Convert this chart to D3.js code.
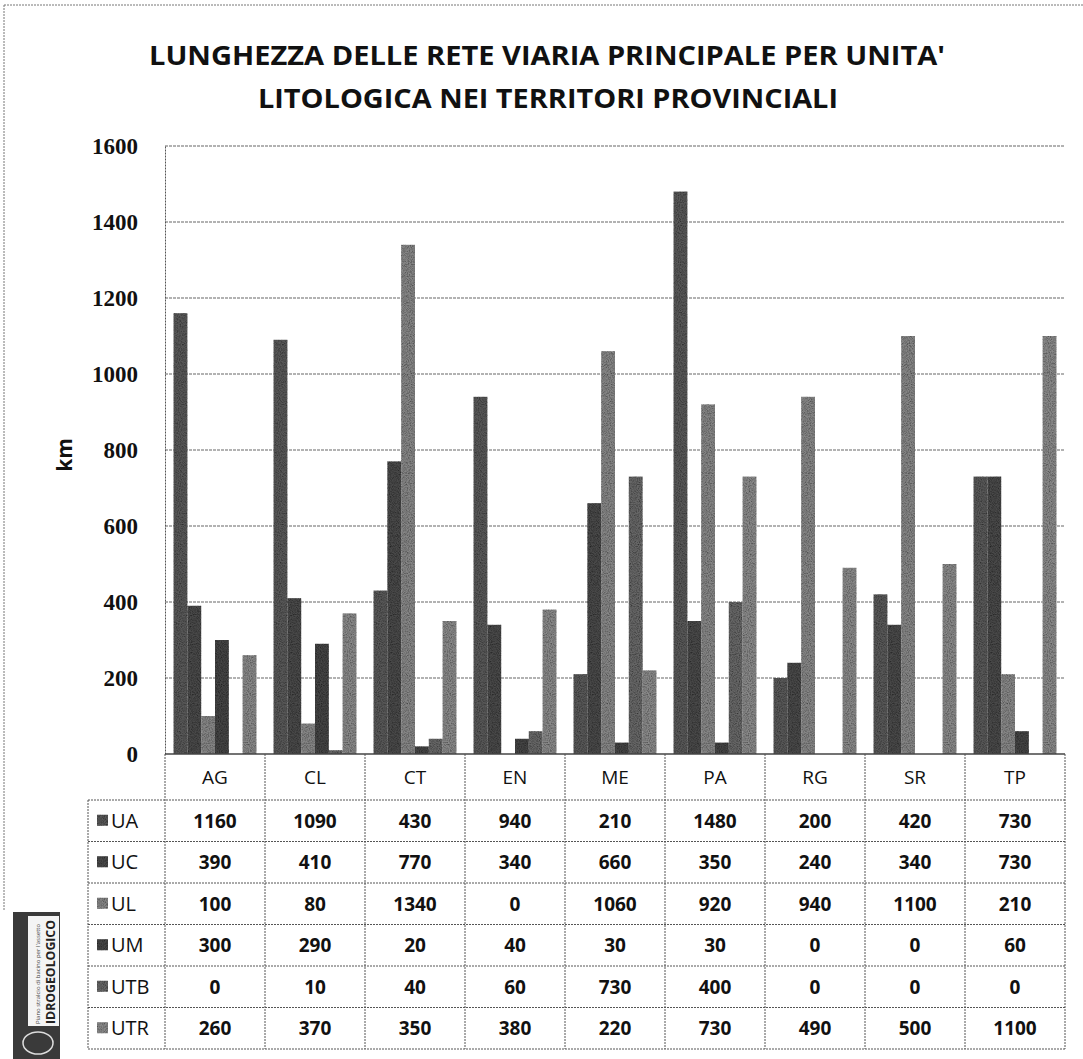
<!DOCTYPE html>
<html>
<head>
<meta charset="utf-8">
<script src="https://cdn.jsdelivr.net/npm/d3@7"></script>
<style>
    body { margin: 0; background: #fff; }
    svg { display: block; }
</style>
</head>
<body>
<div id="chart"></div>
<script>

// data
let provinces = ["AG", "CL", "CT", "EN", "ME", "PA", "RG", "SR", "TP"];
let units = ["UA", "UC", "UL", "UM", "UTB", "UTR"];
let valUA  = [1160, 1090, 430, 940, 210, 1480, 200, 420, 730];
let valUC  = [390, 410, 770, 340, 660, 350, 240, 340, 730];
let valUL  = [100, 80, 1340, 0, 1060, 920, 940, 1100, 210];
let valUM  = [300, 290, 20, 40, 30, 30, 0, 0, 60];
let valUTB = [0, 10, 40, 60, 730, 400, 0, 0, 0];
let valUTR = [260, 370, 350, 380, 220, 730, 490, 500, 1100];
let yTicks = [0, 200, 400, 600, 800, 1000, 1200, 1400, 1600];

let seriesValues = [valUA, valUC, valUL, valUM, valUTB, valUTR];
let colors = ["#585858", "#4a4a4a", "#858585", "#444444", "#666666", "#888888"];

let width = 1083, height = 1059;
let margin = {top: 146, left: 165, right: 15};
let plotBottom = 754;
let rowH = 41.5;
let headerBottom = 800;
let labelLeft = 88;

let svg = d3.select("#chart").append("svg")
    .attr("width", width)
    .attr("height", height)
    .style("font-family", "'Open Sans', 'Liberation Sans', sans-serif");

// grain texture for the bars (scan look)
let defs = svg.append("defs");
let filt = defs.append("filter").attr("id", "grain")
    .attr("x", 0).attr("y", 0).attr("width", 1).attr("height", 1);
filt.append("feTurbulence").attr("type", "fractalNoise")
    .attr("baseFrequency", 0.9).attr("numOctaves", 2).attr("seed", 3).attr("result", "noise");
filt.append("feColorMatrix").attr("in", "noise").attr("type", "matrix")
    .attr("values", "0 0 0 0 0  0 0 0 0 0  0 0 0 0 0  0 0 0 -1.4 0.9").attr("result", "dots");
filt.append("feComposite").attr("in", "dots").attr("in2", "SourceGraphic").attr("operator", "in").attr("result", "dotsIn");
filt.append("feMerge").selectAll("feMergeNode")
    .data(["SourceGraphic", "dotsIn"]).enter().append("feMergeNode").attr("in", d => d);

// outer border of the scanned chart
svg.append("line").attr("x1", 4).attr("x2", 1083).attr("y1", 5).attr("y2", 5)
    .attr("stroke", "#777").attr("stroke-dasharray", "2,1");
svg.append("line").attr("x1", 4).attr("x2", 4).attr("y1", 5).attr("y2", 910)
    .attr("stroke", "#777").attr("stroke-dasharray", "2,1");

// title
let title = svg.append("g").attr("font-weight", "bold").attr("fill", "#111")
    .attr("text-anchor", "middle").attr("font-size", 27);
title.append("text").attr("x", 547).attr("y", 65)
    .attr("textLength", 796).attr("lengthAdjust", "spacingAndGlyphs")
    .text("LUNGHEZZA DELLE RETE VIARIA PRINCIPALE PER UNITA'");
title.append("text").attr("x", 548).attr("y", 108)
    .attr("textLength", 580).attr("lengthAdjust", "spacingAndGlyphs")
    .text("LITOLOGICA NEI TERRITORI PROVINCIALI");

// scales
let x0 = d3.scaleBand()
    .domain(provinces)
    .range([margin.left, width - margin.right - 3])
    .paddingInner(0);

let x1 = d3.scaleBand()
    .domain(units)
    .range([0, x0.bandwidth()])
    .paddingOuter(0.62);

let y = d3.scaleLinear()
    .domain([0, 1600])
    .range([plotBottom, margin.top]);

// gridlines
svg.append("g").selectAll("line")
    .data(yTicks.filter(d => d > 0))
    .enter().append("line")
    .attr("x1", margin.left).attr("x2", x0.range()[1])
    .attr("y1", d => y(d)).attr("y2", d => y(d))
    .attr("stroke", "#666").attr("stroke-width", 1.2)
    .attr("stroke-dasharray", "3,1");

// y axis
let yAxis = d3.axisLeft(y).tickValues(yTicks).tickFormat(d3.format("d")).tickSize(0).tickPadding(27);
let yAxisGroup = svg.append("g")
    .attr("class", "y-axis axis")
    .attr("transform", "translate(" + margin.left + ",0)")
    .call(yAxis);
yAxisGroup.select(".domain").attr("stroke", "#555").attr("stroke-dasharray", "2,1");
yAxisGroup.selectAll("text")
    .attr("font-family", "'Liberation Serif', 'DejaVu Serif', serif")
    .attr("font-weight", "bold").attr("font-size", 23).attr("fill", "#111");

svg.append("text")
    .attr("transform", "translate(72,455) rotate(-90)")
    .attr("text-anchor", "middle")
    .attr("font-weight", "bold").attr("font-size", 21).attr("fill", "#111")
    .text("km");

// bars
let groups = svg.append("g").selectAll("g")
    .data(provinces)
    .enter().append("g")
    .attr("transform", d => "translate(" + x0(d) + ",0)");

groups.selectAll("rect")
    .data((p, i) => units.map((u, j) => ({unit: u, value: seriesValues[j][i], color: colors[j]})))
    .enter().append("rect")
    .attr("class", "bar")
    .attr("x", d => x1(d.unit))
    .attr("width", x1.bandwidth())
    .attr("y", d => y(d.value))
    .attr("height", d => plotBottom - y(d.value))
    .attr("fill", d => d.color)
    .attr("filter", "url(#grain)");

// baseline
svg.append("line")
    .attr("x1", margin.left).attr("x2", x0.range()[1])
    .attr("y1", plotBottom).attr("y2", plotBottom)
    .attr("stroke", "#444").attr("stroke-width", 1.3);

// data table
let table = svg.append("g").attr("class", "table");
let tableRight = x0.range()[1];
let tableBottom = headerBottom + rowH * units.length;
let gridStroke = "#555";

// horizontal lines
let hLines = d3.range(units.length + 1).map(i => headerBottom + i * rowH);
table.selectAll(".hline")
    .data(hLines)
    .enter().append("line")
    .attr("x1", labelLeft).attr("x2", tableRight)
    .attr("y1", d => d).attr("y2", d => d)
    .attr("stroke", gridStroke).attr("stroke-dasharray", "2,1");

// vertical lines
table.selectAll(".vline")
    .data(provinces.map(p => x0(p)).concat([tableRight]))
    .enter().append("line")
    .attr("x1", d => d).attr("x2", d => d)
    .attr("y1", plotBottom).attr("y2", tableBottom)
    .attr("stroke", gridStroke).attr("stroke-dasharray", "2,1");
table.append("line")
    .attr("x1", labelLeft).attr("x2", labelLeft)
    .attr("y1", headerBottom).attr("y2", tableBottom)
    .attr("stroke", gridStroke).attr("stroke-dasharray", "2,1");

// category labels
table.selectAll(".cat")
    .data(provinces)
    .enter().append("text")
    .attr("x", d => x0(d) + x0.bandwidth() / 2)
    .attr("y", (plotBottom + headerBottom) / 2 + 7)
    .attr("text-anchor", "middle")
    .attr("font-size", 19).attr("fill", "#111")
    .text(d => d);

// row labels with legend keys
let rows = table.selectAll(".row")
    .data(units)
    .enter().append("g")
    .attr("transform", (d, i) => "translate(0," + (headerBottom + i * rowH) + ")");

rows.append("rect")
    .attr("x", 97).attr("y", rowH / 2 - 6)
    .attr("width", 11).attr("height", 11)
    .attr("fill", (d, i) => colors[i])
    .attr("filter", "url(#grain)");

rows.append("text")
    .attr("x", 111).attr("y", rowH / 2 + 7)
    .attr("font-size", 20).attr("fill", "#111")
    .text(d => d);

rows.selectAll(".val")
    .data((u, j) => seriesValues[j])
    .enter().append("text")
    .attr("x", (d, i) => x0(provinces[i]) + x0.bandwidth() / 2)
    .attr("y", rowH / 2 + 7)
    .attr("text-anchor", "middle")
    .attr("font-weight", "bold").attr("font-size", 19).attr("fill", "#111")
    .text(d => d);

// logo in the lower left corner
let logo = svg.append("g");
logo.append("rect").attr("x", 13).attr("y", 912).attr("width", 47).attr("height", 147).attr("fill", "#3a3a3a");
logo.append("rect").attr("x", 28).attr("y", 916).attr("width", 31).attr("height", 110).attr("fill", "#f4f4f4");
logo.append("text")
    .attr("transform", "translate(55,1024) rotate(-90)")
    .attr("font-size", 12).attr("font-weight", "bold").attr("fill", "#222")
    .attr("textLength", 104).attr("lengthAdjust", "spacingAndGlyphs")
    .text("IDROGEOLOGICO");
logo.append("text")
    .attr("transform", "translate(40,1024) rotate(-90)")
    .attr("font-size", 6).attr("fill", "#444")
    .attr("textLength", 100).attr("lengthAdjust", "spacingAndGlyphs")
    .text("Piano stralcio di bacino per l'assetto");
logo.append("ellipse").attr("cx", 38).attr("cy", 1043).attr("rx", 15).attr("ry", 11)
    .attr("fill", "none").attr("stroke", "#ddd").attr("stroke-width", 1.5);

</script>
</body>
</html>
